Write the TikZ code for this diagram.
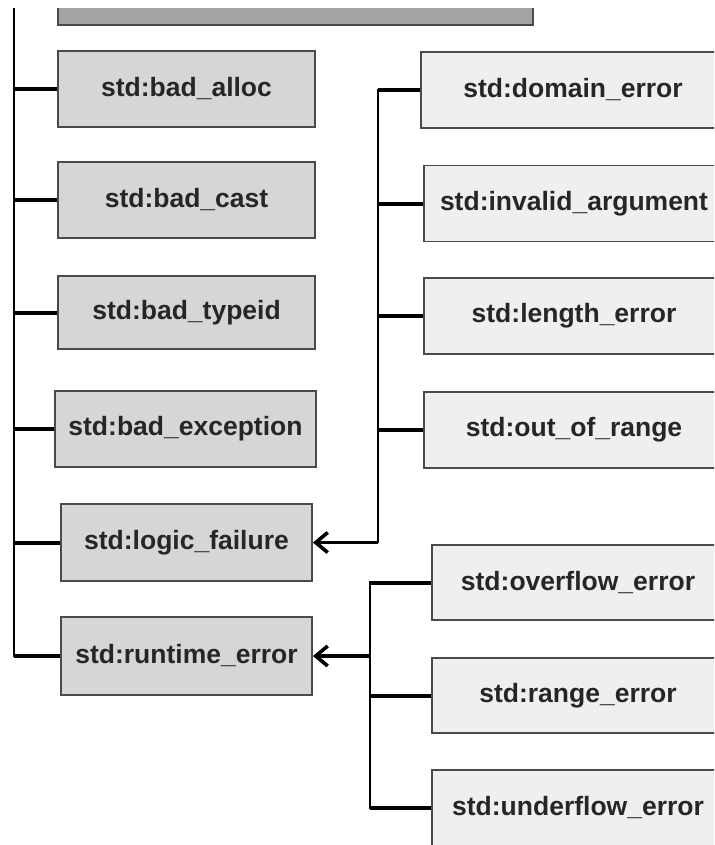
\documentclass[tikz,border=0pt]{standalone}
\usepackage{fontspec}
\setmainfont{Liberation Sans}
\usetikzlibrary{arrows.meta, calc}
\definecolor{boxline}{HTML}{4A4A4A}
\definecolor{leftfill}{HTML}{D6D6D6}
\definecolor{rightfill}{HTML}{EFEFEF}
\definecolor{topfill}{HTML}{A3A3A3}
\definecolor{labeltext}{HTML}{262626}

\begin{document}
\begin{tikzpicture}[
  x=1pt, y=-1pt,
  box/.style={rectangle, draw=boxline, line width=1.8pt, minimum height=76pt, inner sep=0pt, align=center, text=labeltext, font=\fontsize{26.5}{30}\selectfont\bfseries},
  leftbox/.style={box, fill=leftfill, minimum width=257pt},
  rightbox/.style={box, fill=rightfill, minimum width=300pt},
  trunk/.style={draw=black, line width=2.6pt},
  stub/.style={draw=black, line width=4pt},
  arrow/.style={-{Straight Barb[length=12pt, width=20pt, line width=3.6pt]}, draw=black, line width=3.4pt}
]
  \useasboundingbox (0,0) rectangle (714,845);
  \clip (0,9) rectangle (714,845);

  % Left column
  \node[box, fill=topfill, minimum width=475pt, minimum height=60pt] (base) at (295.5,-5) {};
  \node[leftbox] (alloc) at (186.5,89) {std:bad\_alloc};
  \node[leftbox] (cast) at (186.5,200) {std:bad\_cast};
  \node[leftbox, minimum height=73pt] (typeid) at (186.5,312.5) {std:bad\_typeid};
  \node[leftbox, minimum width=261pt] (exception) at (185.5,429) {std:bad\_exception};
  \node[leftbox, minimum width=251pt, minimum height=77pt] (logic) at (186.5,542.5) {std:logic\_failure};
  \node[leftbox, minimum width=251pt, minimum height=78pt] (runtime) at (186.5,656) {std:runtime\_error};

  % Right column, logic group
  \node[rightbox, minimum width=304pt] (domain) at (573,90) {std:domain\_error};
  \node[rightbox] (invalid) at (574,203.5) {std:invalid\_argument};
  \node[rightbox] (length) at (574,316) {std:length\_error};
  \node[rightbox] (outrange) at (574,430) {std:out\_of\_range};

  % Right column, runtime group
  \node[rightbox, minimum width=292pt, minimum height=75pt] (overflow) at (578,582.5) {std:overflow\_error};
  \node[rightbox, minimum width=292pt, minimum height=75pt] (range) at (578,695.5) {std:range\_error};
  \node[rightbox, minimum width=292pt] (underflow) at (578,808) {std:underflow\_error};

  % Joints
  \coordinate (ltrunk) at (14,0);
  \coordinate (jlogic) at (378,542.5);
  \coordinate (jrun) at (370,656);

  % Connectors
  \draw[trunk] (ltrunk) |- (runtime.west);
  \foreach \n in {alloc, cast, typeid, exception, logic, runtime}
    \draw[stub] (\n.west) -- (\n.west -| ltrunk);

  \draw[trunk] (domain.west) -| (jlogic);
  \foreach \n in {domain, invalid, length, outrange}
    \draw[stub] (\n.west) -- (\n.west -| jlogic);
  \draw[arrow] (jlogic) -- (logic.east);

  \draw[trunk] (overflow.west) -| (jrun) |- (underflow.west);
  \foreach \n in {overflow, range, underflow}
    \draw[stub] (\n.west) -- (\n.west -| jrun);
  \draw[arrow] (jrun) -- (runtime.east);
\end{tikzpicture}
\end{document}
